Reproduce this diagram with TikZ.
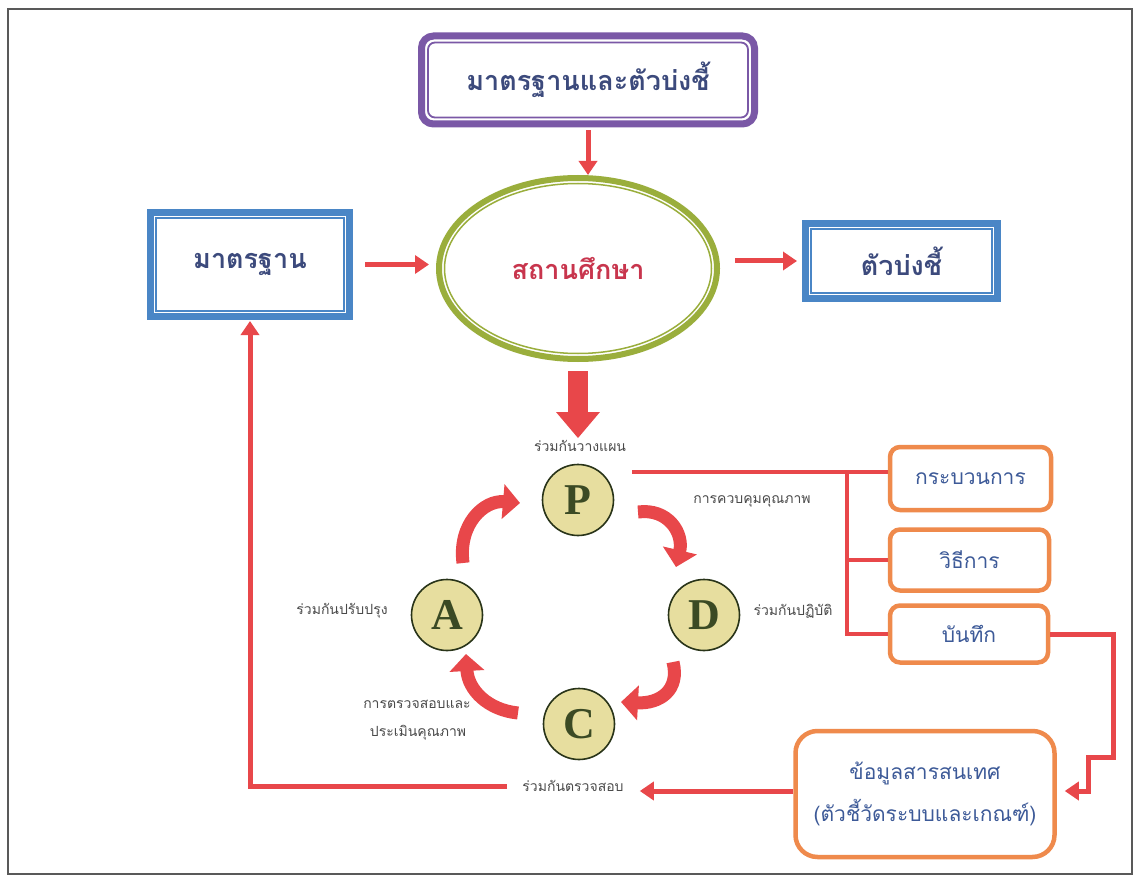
\documentclass[tikz,border=0pt]{standalone}
\usepackage{fontspec}
\setmainfont{Liberation Serif}
\newfontfamily\thai[Script=Thai]{Loma}
\usetikzlibrary{arrows.meta,shapes.geometric,calc}
\definecolor{ared}{HTML}{E8474A}
\definecolor{purp}{HTML}{7A58A6}
\definecolor{bluebx}{HTML}{4A86C6}
\definecolor{grn}{HTML}{9AAE3C}
\definecolor{org}{HTML}{EF8A4C}
\definecolor{navy}{HTML}{3C4A7C}
\definecolor{tblue}{HTML}{3D5A98}
\definecolor{crim}{HTML}{C8354D}
\definecolor{khaki}{HTML}{E7DE9F}
\definecolor{dgreen}{HTML}{3B4A24}
\definecolor{lbl}{HTML}{4A4A4A}
\begin{document}
\begin{tikzpicture}[x=1pt,y=-1pt,
  headtxt/.style={font=\thai\bfseries\fontsize{27}{30}\selectfont, text=navy, inner sep=0},
  dblbox/.style={draw=bluebx, line width=7, headtxt},
  orgbox/.style={draw=org, line width=4.5, rounded corners=10, font=\thai\fontsize{21}{25}\selectfont, text=tblue, inner sep=0},
  pdca/.style={circle, draw=dgreen!70!black, fill=khaki, line width=1.6, minimum size=71, inner sep=0,
     font=\bfseries\fontsize{44}{44}\selectfont, text=dgreen},
  lbltxt/.style={font=\thai\fontsize{14}{16}\selectfont, text=lbl, inner sep=0},
  rarrow/.style={draw=ared, line width=5, -{Triangle[length=14pt,width=18pt]}},
  rline/.style={draw=ared, line width=4.5},
  carrow/.style={draw=ared, line width=13, -{Triangle[length=17pt,width=34pt]}},
  bigarrow/.style={draw=ared, line width=20, -{Triangle[length=26pt,width=42pt]}}
]
\useasboundingbox (0,0) rectangle (1135,877);
\fill[white] (0,0) rectangle (1135,877);
\draw[black!65, line width=1.8] (8,9) rectangle (1132,874);

% top box
\node[draw=purp, line width=7, rounded corners=12, minimum width=333, minimum height=88, headtxt] (top) at (588,80) {มาตรฐานและตัวบ่งชี้};
\draw[purp, line width=1.8, rounded corners=7] ($(top.north west)+(10,10)$) rectangle ($(top.south east)+(-10,-10)$);

% left / right boxes
\node[dblbox, minimum width=199, minimum height=104] (lb) at (250,264.5) {มาตรฐาน};
\draw[bluebx, line width=1.8] ($(lb.north west)+(9,9)$) rectangle ($(lb.south east)+(-9,-9)$);
\node[dblbox, minimum width=192, minimum height=75] (rb) at (901.5,261) {ตัวบ่งชี้};
\draw[bluebx, line width=1.8] ($(rb.north west)+(9,9)$) rectangle ($(rb.south east)+(-9,-9)$);

% ellipse
\node[ellipse, draw=grn, line width=6, minimum width=278, minimum height=181, headtxt, text=crim] (ell) at (578,268.5) {สถานศึกษา};
\node[ellipse, draw=grn, line width=1.5, minimum width=267, minimum height=170] (ellin) at (ell.center) {};

% arrows top part
\draw[rarrow, shorten <=3] (top.south) -- (top.south |- ell.north);
\draw[rarrow, shorten <=12, shorten >=7] (lb.east) -- (lb.east -| ell.west);
\draw[rarrow, shorten <=15, shorten >=5] (rb.west -| ell.east) -- (rb.west);

% PDCA
\node[pdca] (P) at (578,500) {P};
\node[pdca] (D) at (704,615) {D};
\node[pdca] (A) at (447,615) {A};
\node[pdca] (C) at (579,724) {C};

\node[lbltxt] (ptext) at (580,446) {ร่วมกันวางแผน};
\node[lbltxt] (qc) at (752,501) {การควบคุมคุณภาพ};
\node[lbltxt] (dtext) at (793,611) {ร่วมกันปฏิบัติ};
\node[lbltxt] (atext) at (342,611) {ร่วมกันปรับปรุง};
\node[lbltxt] (ch1) at (417,704) {การตรวจสอบและ};
\node[lbltxt] (ch2) at (418,733) {ประเมินคุณภาพ};
\node[lbltxt] (ctext) at (573,786) {ร่วมกันตรวจสอบ};

\draw[bigarrow, shorten <=9, shorten >=2] (ell.south -| P) -- (ptext.north -| P);

% curved arrows
\draw[carrow] (638,512) .. controls (668,508) and (684,533) .. (676,567);
\draw[carrow] (673,662) .. controls (680,690) and (660,704) .. (621,702);
\draw[carrow] (518,713) .. controls (488,710) and (468,690) .. (466,654);
\draw[carrow] (463,563) .. controls (458,524) and (484,500) .. (520,503);

% right boxes
\node[orgbox, minimum width=161, minimum height=63] (proc) at (970.5,478.5) {กระบวนการ};
\node[orgbox, minimum width=159, minimum height=61] (meth) at (969.5,560) {วิธีการ};
\node[orgbox, minimum width=158, minimum height=57] (rec) at (969,634) {บันทึก};
\node[orgbox, rounded corners=22, minimum width=259, minimum height=126, align=center,
      font=\thai\fontsize{21}{42}\selectfont] (info) at (925,794) {ข้อมูลสารสนเทศ\\(ตัวชี้วัดระบบและเกณฑ์)};

\coordinate (pj) at (632,472);
\coordinate (vj) at (847,472);
\draw[rline] (pj) -- (pj -| proc.west);
\draw[rline] (vj) |- (rec.west);
\draw[rline] (vj |- meth.west) -- (meth.west);

\coordinate (j1) at (1113,757);
\coordinate (j2) at (1088,791);
\draw[rarrow, shorten >=8] (rec.east) -| (j1) -| (j2) -- (info.east |- j2);

\draw[rarrow, shorten >=16] (info.west |- j2) -- (j2 -| ctext.east);
\draw[rarrow, shorten <=15, shorten >=1] (ctext.west) -- (ctext.west -| lb.south) -- (lb.south);
\end{tikzpicture}
\end{document}
